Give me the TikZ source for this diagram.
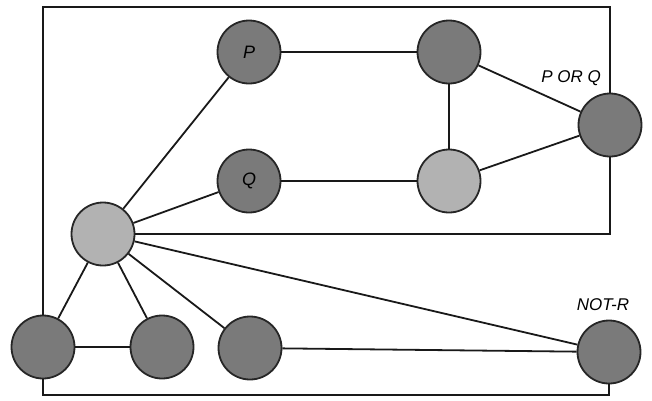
\documentclass[tikz,border=0pt]{standalone}
\usepackage{fontspec}
\setmainfont{Liberation Sans}
\begin{document}
\begin{tikzpicture}[x=1pt,y=-1pt,
  dnode/.style={circle,draw=black!85,line width=1.8pt,fill=black!52,minimum size=63pt,inner sep=0pt,font=\fontsize{18}{18}\selectfont\itshape},
  lnode/.style={dnode,fill=black!30},
  conn/.style={line width=1.8pt,draw=black!90},
  lbl/.style={font=\fontsize{17}{17}\selectfont\itshape,inner sep=0pt}]
\useasboundingbox (0,0) rectangle (652,400);
% nodes
\node[dnode] (P)  at (249,52)  {P};
\node[dnode] (Q)  at (249,181) {Q};
\node[dnode] (T)  at (449,52)  {};
\node[lnode] (M)  at (449,181) {};
\node[dnode] (PQ) at (610,125) {};
\node[lnode] (L)  at (103,234) {};
\node[dnode] (A)  at (43,347)  {};
\node[dnode] (B)  at (162,347) {};
\node[dnode] (C)  at (250,348) {};
\node[dnode] (NR) at (609,352) {};
\node[lbl] (lpq) at (571,78) {P OR Q};
\node[lbl] (lnr) at (603,305) {NOT-R};
\coordinate (topy) at (0,7);
\coordinate (boty) at (0,395);
% connectors
\draw[conn] (P) -- (T);
\draw[conn] (Q) -- (M);
\draw[conn] (T) -- (M);
\draw[conn] (T) -- (PQ);
\draw[conn] (M) -- (PQ);
\draw[conn] (L) -- (P);
\draw[conn] (L) -- (Q);
\draw[conn] (L) -- (NR);
\draw[conn] (L) -- (A);
\draw[conn] (L) -- (B);
\draw[conn] (L) -- (C);
\draw[conn] (A) -- (B);
\draw[conn] (C) -- (NR);
\draw[conn] (L.east) -- (L.east -| PQ.south) -- (PQ.south);
\draw[conn] (A.north) |- (topy -| PQ.north) -- (PQ.north);
\draw[conn] (A.south) |- (boty -| NR.south) -- (NR.south);
\end{tikzpicture}
\end{document}
